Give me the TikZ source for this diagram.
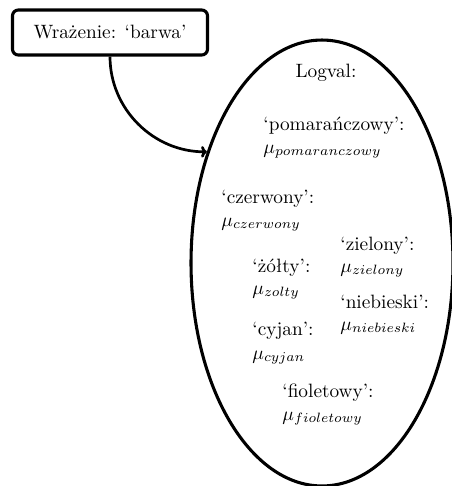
\documentclass[tikz,border=0pt]{standalone}
\usetikzlibrary{shapes.geometric,arrows.meta}
\begin{document}
\begin{tikzpicture}[x=0.518pt,y=-0.518pt,
  frame/.style={draw,line width=1.6pt,rounded corners=3pt,minimum width=101pt,minimum height=23.3pt,inner sep=0pt},
  oval/.style={draw,ellipse,line width=1.6pt,minimum width=135.7pt,minimum height=231pt,inner sep=0pt},
  lbl/.style={anchor=base west,inner sep=0pt},
  conn/.style={line width=1.4pt,-{To[length=3pt,width=6pt]}}]
\useasboundingbox (0,0) rectangle (452,486);
\node[frame] (box) at (110,32.5) {Wrażenie: ‘barwa’};
\node[oval] (ell) at (322,263) {};
\node[anchor=base,inner sep=0pt] (logval) at (326,77) {Logval:};
\node[lbl] (l1) at (263,130) {‘pomarańczowy’:};
\node[lbl] (m1) at (263,153) {$\mu_{pomaranczowy}$};
\node[lbl] (l2) at (221,203) {‘czerwony’:};
\node[lbl] (m2) at (221,226) {$\mu_{czerwony}$};
\node[lbl] (l3) at (340,250) {‘zielony’:};
\node[lbl] (m3) at (340,272) {$\mu_{zielony}$};
\node[lbl] (l4) at (252,272) {‘żółty’:};
\node[lbl] (m4) at (252,294) {$\mu_{zolty}$};
\node[lbl] (l5) at (340,308) {‘niebieski’:};
\node[lbl] (m5) at (340,330) {$\mu_{niebieski}$};
\node[lbl] (l6) at (252,335) {‘cyjan’:};
\node[lbl] (m6) at (252,359) {$\mu_{cyjan}$};
\node[lbl] (l7) at (282,397) {‘fioletowy’:};
\node[lbl] (m7) at (282,420) {$\mu_{fioletowy}$};
\draw[conn] (box.south) to[out=-90,in=180] (ell.136);
\end{tikzpicture}
\end{document}
